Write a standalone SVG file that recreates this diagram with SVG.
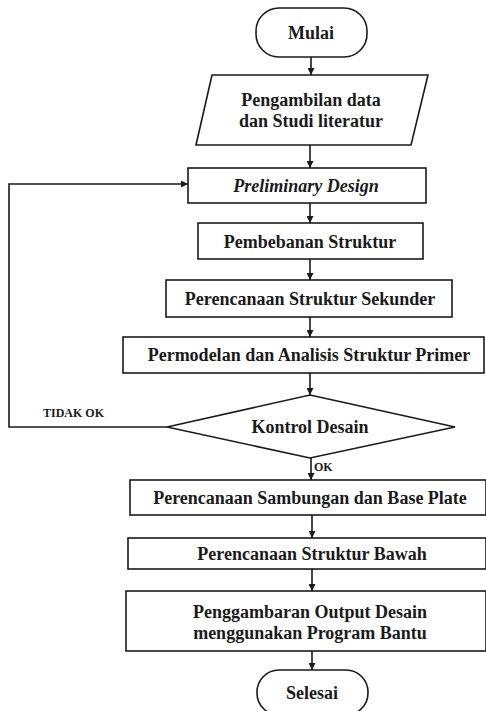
<svg xmlns="http://www.w3.org/2000/svg" width="486" height="711" viewBox="0 0 486 711">
<defs>
<marker id="arr" viewBox="0 0 10 10" refX="10" refY="5" markerWidth="7" markerHeight="7" markerUnits="userSpaceOnUse" orient="auto">
<path d="M0,0 L10,5 L0,10 Z" fill="#1a1a1a"/>
</marker>
<style>
.s{fill:#fff;stroke:#1a1a1a;stroke-width:1.6}
.t{font-weight:bold;font-size:18px;fill:#1a1a1a;text-anchor:middle}
.i{font-style:italic}
.l{font-weight:bold;font-size:12px;fill:#1a1a1a}
.c{fill:none;stroke:#1a1a1a;stroke-width:1.6;marker-end:url(#arr)}
</style>
</defs>
<rect width="486" height="711" fill="#fff"/>
<g id="connectors" font-family="'Liberation Serif', 'DejaVu Serif', serif">
<line class="c" x1="311" y1="57" x2="311" y2="75"/>
<line class="c" x1="310" y1="145" x2="310" y2="168"/>
<line class="c" x1="310" y1="203" x2="310" y2="223"/>
<line class="c" x1="310" y1="259" x2="310" y2="280"/>
<line class="c" x1="310" y1="317" x2="310" y2="337"/>
<line class="c" x1="310" y1="373" x2="310" y2="395"/>
<line class="c" x1="311" y1="458" x2="311" y2="480"/>
<line class="c" x1="312" y1="515" x2="312" y2="538"/>
<line class="c" x1="312" y1="569" x2="312" y2="591"/>
<line class="c" x1="312" y1="651" x2="312" y2="670"/>
<polyline class="c" points="167,427 9,427 9,184 188,184"/>
<text class="l" x="43" y="417" font-size="12.5">TIDAK OK</text>
<text class="l" x="314" y="471">OK</text>
</g>
<g id="nodes" font-family="'Liberation Serif', 'DejaVu Serif', serif">
<g id="mulai">
<rect class="s" x="256" y="8" width="111" height="49" rx="23" ry="23"/>
<text class="t" x="311" y="39">Mulai</text>
</g>
<g id="pengambilan">
<polygon class="s" points="212,75 428,75 411,145 196,145"/>
<text class="t" x="311" y="106">Pengambilan data</text>
<text class="t" x="311" y="127">dan Studi literatur</text>
</g>
<g id="preliminary">
<rect class="s" x="188" y="168" width="238" height="35"/>
<text class="t i" x="306" y="192">Preliminary Design</text>
</g>
<g id="pembebanan">
<rect class="s" x="198" y="223" width="225" height="36"/>
<text class="t" x="310" y="248">Pembebanan Struktur</text>
</g>
<g id="sekunder">
<rect class="s" x="166" y="280" width="286" height="37"/>
<text class="t" x="310" y="305">Perencanaan Struktur Sekunder</text>
</g>
<g id="permodelan">
<rect class="s" x="123" y="337" width="361" height="36"/>
<text class="t" x="309" y="361">Permodelan dan Analisis Struktur Primer</text>
</g>
<g id="kontrol">
<polygon class="s" points="310,395 455,427 310,458 167,427"/>
<text class="t" x="310" y="433">Kontrol Desain</text>
</g>
<g id="sambungan">
<rect class="s" x="130" y="480" width="356" height="35"/>
<text class="t" x="310" y="504">Perencanaan Sambungan dan Base Plate</text>
</g>
<g id="bawah">
<rect class="s" x="128" y="538" width="358" height="31"/>
<text class="t" x="312" y="560">Perencanaan Struktur Bawah</text>
</g>
<g id="penggambaran">
<rect class="s" x="126" y="591" width="360" height="60"/>
<text class="t" x="310" y="618">Penggambaran Output Desain</text>
<text class="t" x="310" y="639">menggunakan Program Bantu</text>
</g>
<g id="selesai">
<rect class="s" x="257" y="670" width="111" height="45" rx="22" ry="22"/>
<text class="t" x="312" y="699">Selesai</text>
</g>
</g>
</svg>
